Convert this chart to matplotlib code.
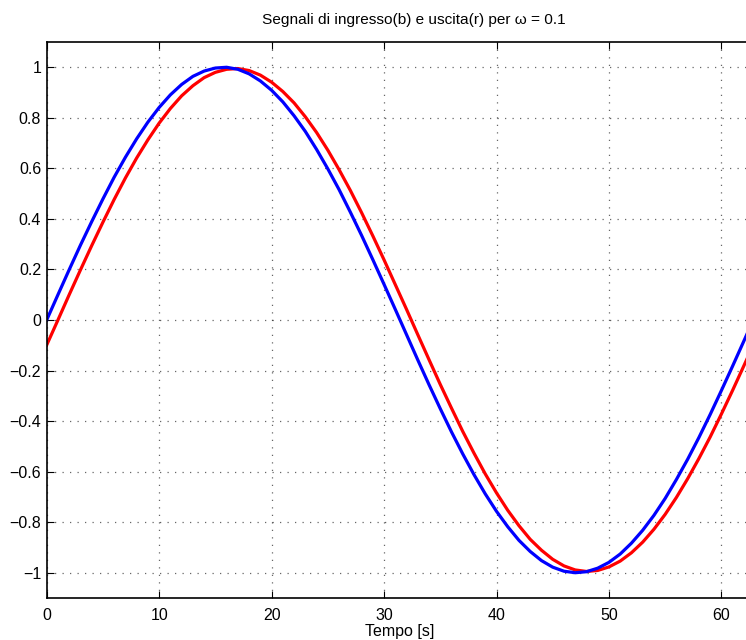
import matplotlib.pyplot as plt

# valori (campioni ogni secondo)
tempo = list(range(0, 67))

ingresso_b = [0.000, 0.100, 0.199, 0.296, 0.389, 0.479, 0.565, 0.644, 0.717,
              0.783, 0.841, 0.891, 0.932, 0.964, 0.985, 0.997, 1.000, 0.992,
              0.974, 0.946, 0.909, 0.863, 0.808, 0.746, 0.675, 0.598, 0.516,
              0.427, 0.335, 0.239, 0.141, 0.042, -0.058, -0.158, -0.256,
              -0.351, -0.443, -0.530, -0.612, -0.688, -0.757, -0.818, -0.872,
              -0.916, -0.952, -0.978, -0.994, -1.000, -0.996, -0.982, -0.959,
              -0.926, -0.883, -0.832, -0.773, -0.706, -0.631, -0.551, -0.465,
              -0.374, -0.279, -0.182, -0.083, 0.017, 0.117, 0.215, 0.312]

uscita_r = [-0.099, 0.000, 0.100, 0.198, 0.294, 0.387, 0.477, 0.562, 0.641,
            0.713, 0.779, 0.837, 0.887, 0.927, 0.959, 0.980, 0.992, 0.995,
            0.987, 0.969, 0.941, 0.904, 0.859, 0.804, 0.742, 0.672, 0.595,
            0.513, 0.425, 0.333, 0.238, 0.140, 0.042, -0.058, -0.157,
            -0.255, -0.349, -0.441, -0.527, -0.609, -0.684, -0.753, -0.814,
            -0.868, -0.911, -0.947, -0.973, -0.989, -0.995, -0.991, -0.977,
            -0.954, -0.921, -0.879, -0.828, -0.769, -0.702, -0.628, -0.548,
            -0.463, -0.372, -0.278, -0.181, -0.083, 0.017, 0.116, 0.214]

x_ticks = [0, 10, 20, 30, 40, 50, 60]
y_ticks = [-1, -0.8, -0.6, -0.4, -0.2, 0, 0.2, 0.4, 0.6, 0.8, 1]
y_labels = ['\u22121', '\u22120.8', '\u22120.6', '\u22120.4', '\u22120.2', '0',
            '0.2', '0.4', '0.6', '0.8', '1']

plt.rcParams['font.family'] = ['Liberation Sans', 'DejaVu Sans']
plt.rcParams['font.size'] = 11.5

fig = plt.figure(figsize=(7.46, 6.4), dpi=100)
# l'asse continua oltre il bordo destro, come nell'originale ritagliato
ax = fig.add_axes([46.7 / 746, 42 / 640, 734.3 / 746, 556 / 640])

ax.plot(tempo, uscita_r, color='red', linewidth=2.3)
ax.plot(tempo, ingresso_b, color='blue', linewidth=2.3)

ax.set_xlim(0, 65.3)
ax.set_ylim(-1.1, 1.1)
ax.set_xticks(x_ticks)
ax.set_yticks(y_ticks)
ax.set_yticklabels(y_labels)
ax.tick_params(direction='in', top=True, right=True, length=5, width=0.8)
ax.tick_params(axis='x', pad=7)
ax.tick_params(axis='y', pad=4)
ax.grid(True, linestyle=(0, (1, 5)), color='black', linewidth=0.9, alpha=0.6)
for s in ax.spines.values():
    s.set_linewidth(1.2)

ax.set_title('Segnali di ingresso(b) e uscita(r) per \u03c9 = 0.1',
             fontsize=11.1, pad=13)
ax.set_xlabel('Tempo [s]')
ax.xaxis.set_label_coords(0.481, -0.046)

fig.savefig('out.png', dpi=100)
